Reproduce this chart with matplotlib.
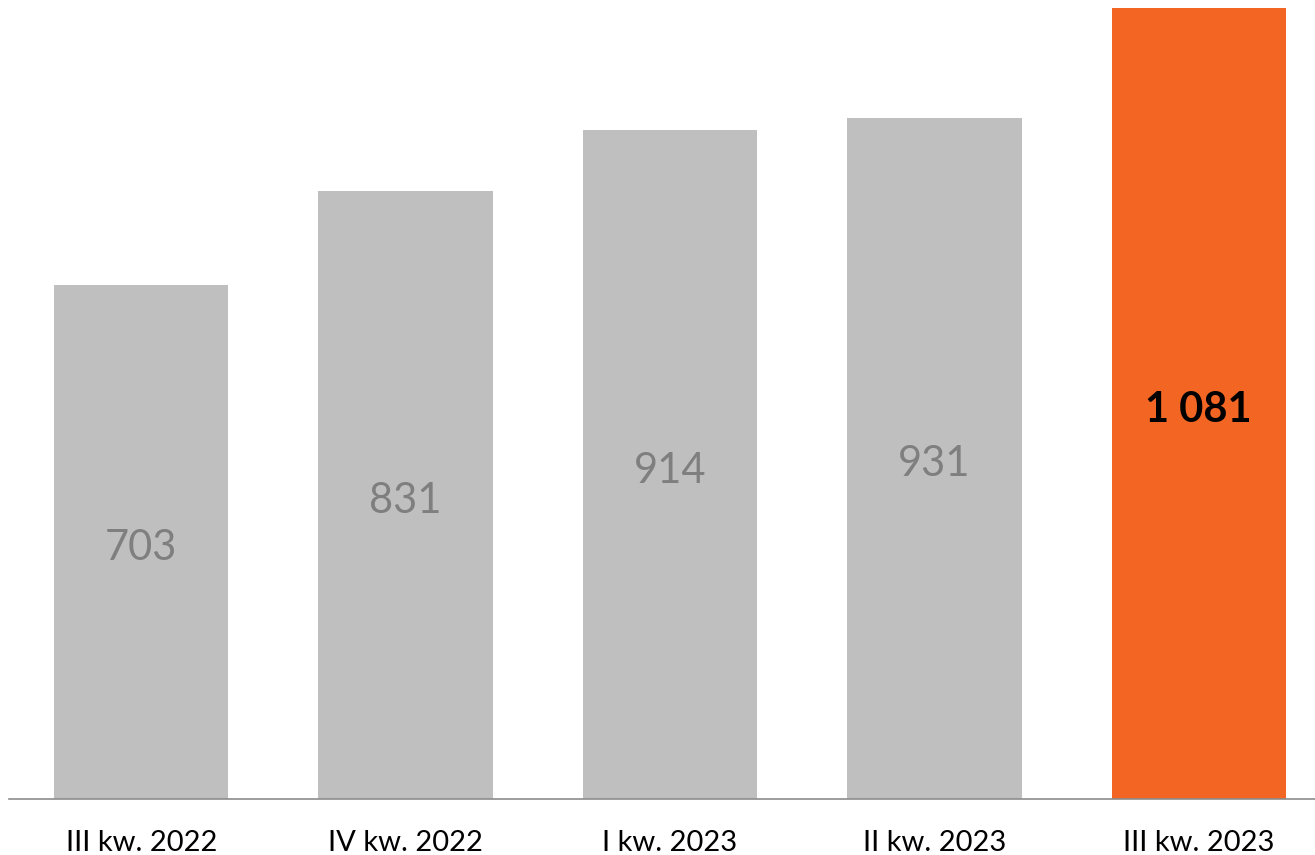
import matplotlib
matplotlib.use("Agg")
import matplotlib.pyplot as plt

plt.rcParams['font.family'] = ['Lato', 'DejaVu Sans']

quarters = ["III kw. 2022", "IV kw. 2022", "I kw. 2023", "II kw. 2023", "III kw. 2023"]
values = [703, 831, 914, 931, 1081]
value_labels = ["703", "831", "914", "931", "1 081"]

GREY = "#bfbfbf"
ORANGE = "#f26522"

fig = plt.figure(figsize=(13.15, 8.55), dpi=100)
ax = fig.add_axes([9 / 1315, 56 / 855, 1322 / 1315, 799 / 855])

colors = [GREY] * (len(values) - 1) + [ORANGE]
bars = ax.bar(range(len(values)), values, width=0.66, color=colors)

# value labels in the middle of each bar; last one highlighted
for i, (bar, txt) in enumerate(zip(bars, value_labels)):
    last = i == len(values) - 1
    ax.annotate(txt, (bar.get_x() + bar.get_width() / 2, bar.get_height() / 2),
                xytext=(0, -6), textcoords='offset pixels',
                ha='center', va='center', fontsize=30,
                color='black' if last else '#7f7f7f',
                fontweight='bold' if last else 'normal')

ax.set_xlim(-0.5, len(values) - 0.5)
ax.set_ylim(0, 1092)
ax.set_xticks(range(len(values)))
ax.set_xticklabels(quarters, fontsize=21)
ax.tick_params(axis='x', length=0, pad=22)
ax.set_yticks([])

for side in ['top', 'right', 'left']:
    ax.spines[side].set_visible(False)
ax.spines['bottom'].set_color('#8c8c8c')
ax.spines['bottom'].set_linewidth(1.2)

fig.savefig("out.png", dpi=100)
